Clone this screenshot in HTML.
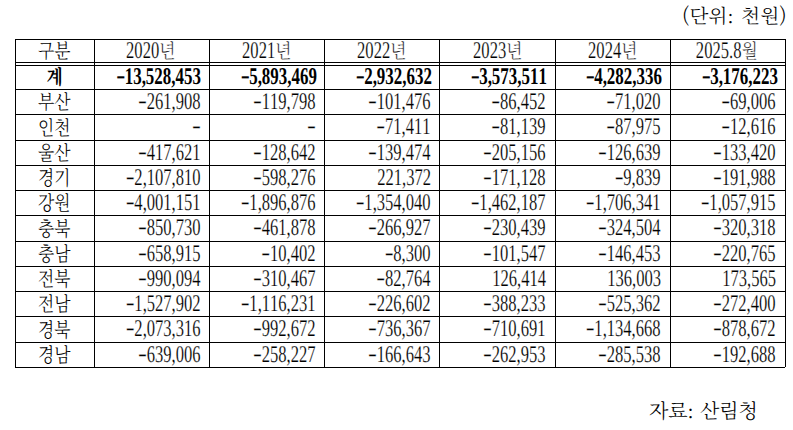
<!DOCTYPE html>
<html lang="ko"><head><meta charset="utf-8"><title>table</title><style>
*{margin:0;padding:0}
html,body{width:793px;height:430px;background:#fff;overflow:hidden}
body{position:relative;color:#000;text-rendering:geometricPrecision;font-kerning:none;font-feature-settings:"kern" 0;font-family:"Liberation Serif","Noto Serif CJK KR","Noto Serif CJK SC",serif}
.h{position:absolute;height:1px;background:#000}
.v{position:absolute;width:1px;background:#000}
.c{position:absolute;white-space:nowrap}
.n{text-align:right;font-size:24px}
.n:not(.b),.hd{-webkit-text-stroke:0.2px #fff}
.n>span,.hd>span{display:inline-block;transform:scaleX(0.69)}
.n.b>span{transform:scaleX(0.705)}
.n.b i{width:11.87px}
.n>span{transform-origin:100% 50%}
.n i{font-style:normal;display:inline-block;width:12.6px;text-align:left;transform:translateY(-1.2px) scale(1.61,1.0);transform-origin:0 50%}
.b{font-weight:bold}
.k{text-align:center;font-family:"Noto Serif CJK KR","Noto Serif CJK SC",serif;font-size:20px;font-weight:300}
.k.b{font-weight:bold}
.k.b span{position:relative;top:-1px;left:0.5px}
.k span{display:inline-block;transform:scaleX(0.84);transform-origin:50% 50%}
.hd{text-align:center;font-size:24px}
.hd>span{transform-origin:50% 50%}
.hd b{display:inline-block;font-weight:300;font-family:"Noto Serif CJK KR","Noto Serif CJK SC",serif;font-size:20px;transform:scaleX(1.2174);transform-origin:0 50%;margin-right:4.20px}
.lc{font-family:"Liberation Serif",serif}
.note{position:absolute;font-family:"Noto Serif CJK KR","Noto Serif CJK SC",serif;white-space:nowrap;font-weight:300}
</style></head><body>
<div class="h" style="left:15px;top:39px;width:771px"></div>
<div class="h" style="left:15px;top:62px;width:771px"></div>
<div class="h" style="left:15px;top:65px;width:771px"></div>
<div class="h" style="left:15px;top:89px;width:771px"></div>
<div class="h" style="left:15px;top:114px;width:771px"></div>
<div class="h" style="left:15px;top:140px;width:771px"></div>
<div class="h" style="left:15px;top:165px;width:771px"></div>
<div class="h" style="left:15px;top:190px;width:771px"></div>
<div class="h" style="left:15px;top:215px;width:771px"></div>
<div class="h" style="left:15px;top:241px;width:771px"></div>
<div class="h" style="left:15px;top:266px;width:771px"></div>
<div class="h" style="left:15px;top:291px;width:771px"></div>
<div class="h" style="left:15px;top:316px;width:771px"></div>
<div class="h" style="left:15px;top:342px;width:771px"></div>
<div class="h" style="left:15px;top:367px;width:770px"></div>
<div class="v" style="left:15px;top:39px;height:329px"></div>
<div class="v" style="left:94px;top:39px;height:329px"></div>
<div class="v" style="left:209px;top:39px;height:329px"></div>
<div class="v" style="left:324px;top:39px;height:329px"></div>
<div class="v" style="left:439px;top:39px;height:329px"></div>
<div class="v" style="left:555px;top:39px;height:329px"></div>
<div class="v" style="left:670px;top:39px;height:329px"></div>
<div class="v" style="left:785px;top:39px;height:328px"></div>
<div class="c k" style="left:15.0px;width:78px;top:39.0px;height:22px;line-height:22px"><span>구분</span></div>
<div class="c hd" style="left:94px;width:114px;top:39.0px;height:22px;line-height:22px"><span>2020<b>년</b></span></div>
<div class="c hd" style="left:210px;width:114px;top:39.0px;height:22px;line-height:22px"><span>2021<b>년</b></span></div>
<div class="c hd" style="left:325px;width:114px;top:39.0px;height:22px;line-height:22px"><span>2022<b>년</b></span></div>
<div class="c hd" style="left:440px;width:115px;top:39.0px;height:22px;line-height:22px"><span>2023<b>년</b></span></div>
<div class="c hd" style="left:556px;width:114px;top:39.0px;height:22px;line-height:22px"><span>2024<b>년</b></span></div>
<div class="c hd" style="left:670px;width:114px;top:39.0px;height:22px;line-height:22px"><span>2025.8<b>월</b></span></div>
<div class="c k b" style="left:15.0px;width:78px;top:65.0px;height:23px;line-height:23px"><span>계</span></div>
<div class="c n b" style="left:15px;width:186.04px;top:66.0px;height:23px;line-height:23px"><span><i>-</i>13,528,453</span></div>
<div class="c n b" style="left:130px;width:186.59px;top:66.0px;height:23px;line-height:23px"><span><i>-</i>5,893,469</span></div>
<div class="c n b" style="left:245px;width:186.94px;top:66.0px;height:23px;line-height:23px"><span><i>-</i>2,932,632</span></div>
<div class="c n b" style="left:360px;width:187.09px;top:66.0px;height:23px;line-height:23px"><span><i>-</i>3,573,511</span></div>
<div class="c n b" style="left:476px;width:185.44px;top:66.0px;height:23px;line-height:23px"><span><i>-</i>4,282,336</span></div>
<div class="c n b" style="left:591px;width:186.79px;top:66.0px;height:23px;line-height:23px"><span><i>-</i>3,176,223</span></div>
<div class="c k" style="left:15.0px;width:78px;top:89.0px;height:24px;line-height:24px"><span>부산</span></div>
<div class="c n" style="left:15px;width:185.74px;top:90.0px;height:24px;line-height:24px"><span><i>-</i>261,908</span></div>
<div class="c n" style="left:130px;width:185.79px;top:90.0px;height:24px;line-height:24px"><span><i>-</i>119,798</span></div>
<div class="c n" style="left:245px;width:185.84px;top:90.0px;height:24px;line-height:24px"><span><i>-</i>101,476</span></div>
<div class="c n" style="left:360px;width:185.89px;top:90.0px;height:24px;line-height:24px"><span><i>-</i>86,452</span></div>
<div class="c n" style="left:476px;width:184.94px;top:90.0px;height:24px;line-height:24px"><span><i>-</i>71,020</span></div>
<div class="c n" style="left:591px;width:184.99px;top:90.0px;height:24px;line-height:24px"><span><i>-</i>69,006</span></div>
<div class="c k" style="left:15.0px;width:78px;top:114.0px;height:25px;line-height:25px"><span>인천</span></div>
<div class="c n" style="left:15px;width:185.74px;top:115.0px;height:25px;line-height:25px"><span><i>-</i></span></div>
<div class="c n" style="left:130px;width:185.79px;top:115.0px;height:25px;line-height:25px"><span><i>-</i></span></div>
<div class="c n" style="left:245px;width:185.84px;top:115.0px;height:25px;line-height:25px"><span><i>-</i>71,411</span></div>
<div class="c n" style="left:360px;width:185.89px;top:115.0px;height:25px;line-height:25px"><span><i>-</i>81,139</span></div>
<div class="c n" style="left:476px;width:184.94px;top:115.0px;height:25px;line-height:25px"><span><i>-</i>87,975</span></div>
<div class="c n" style="left:591px;width:184.99px;top:115.0px;height:25px;line-height:25px"><span><i>-</i>12,616</span></div>
<div class="c k" style="left:15.0px;width:78px;top:140.0px;height:24px;line-height:24px"><span>울산</span></div>
<div class="c n" style="left:15px;width:185.74px;top:141.0px;height:24px;line-height:24px"><span><i>-</i>417,621</span></div>
<div class="c n" style="left:130px;width:185.79px;top:141.0px;height:24px;line-height:24px"><span><i>-</i>128,642</span></div>
<div class="c n" style="left:245px;width:185.84px;top:141.0px;height:24px;line-height:24px"><span><i>-</i>139,474</span></div>
<div class="c n" style="left:360px;width:185.89px;top:141.0px;height:24px;line-height:24px"><span><i>-</i>205,156</span></div>
<div class="c n" style="left:476px;width:184.94px;top:141.0px;height:24px;line-height:24px"><span><i>-</i>126,639</span></div>
<div class="c n" style="left:591px;width:184.99px;top:141.0px;height:24px;line-height:24px"><span><i>-</i>133,420</span></div>
<div class="c k" style="left:15.0px;width:78px;top:165.0px;height:24px;line-height:24px"><span>경기</span></div>
<div class="c n" style="left:15px;width:185.74px;top:166.0px;height:24px;line-height:24px"><span><i>-</i>2,107,810</span></div>
<div class="c n" style="left:130px;width:185.79px;top:166.0px;height:24px;line-height:24px"><span><i>-</i>598,276</span></div>
<div class="c n" style="left:245px;width:185.84px;top:166.0px;height:24px;line-height:24px"><span>221,372</span></div>
<div class="c n" style="left:360px;width:185.89px;top:166.0px;height:24px;line-height:24px"><span><i>-</i>171,128</span></div>
<div class="c n" style="left:476px;width:184.94px;top:166.0px;height:24px;line-height:24px"><span><i>-</i>9,839</span></div>
<div class="c n" style="left:591px;width:184.99px;top:166.0px;height:24px;line-height:24px"><span><i>-</i>191,988</span></div>
<div class="c k" style="left:15.0px;width:78px;top:190.0px;height:24px;line-height:24px"><span>강원</span></div>
<div class="c n" style="left:15px;width:185.74px;top:191.0px;height:24px;line-height:24px"><span><i>-</i>4,001,151</span></div>
<div class="c n" style="left:130px;width:185.79px;top:191.0px;height:24px;line-height:24px"><span><i>-</i>1,896,876</span></div>
<div class="c n" style="left:245px;width:185.84px;top:191.0px;height:24px;line-height:24px"><span><i>-</i>1,354,040</span></div>
<div class="c n" style="left:360px;width:185.89px;top:191.0px;height:24px;line-height:24px"><span><i>-</i>1,462,187</span></div>
<div class="c n" style="left:476px;width:184.94px;top:191.0px;height:24px;line-height:24px"><span><i>-</i>1,706,341</span></div>
<div class="c n" style="left:591px;width:184.99px;top:191.0px;height:24px;line-height:24px"><span><i>-</i>1,057,915</span></div>
<div class="c k" style="left:15.0px;width:78px;top:215.0px;height:25px;line-height:25px"><span>충북</span></div>
<div class="c n" style="left:15px;width:185.74px;top:216.0px;height:25px;line-height:25px"><span><i>-</i>850,730</span></div>
<div class="c n" style="left:130px;width:185.79px;top:216.0px;height:25px;line-height:25px"><span><i>-</i>461,878</span></div>
<div class="c n" style="left:245px;width:185.84px;top:216.0px;height:25px;line-height:25px"><span><i>-</i>266,927</span></div>
<div class="c n" style="left:360px;width:185.89px;top:216.0px;height:25px;line-height:25px"><span><i>-</i>230,439</span></div>
<div class="c n" style="left:476px;width:184.94px;top:216.0px;height:25px;line-height:25px"><span><i>-</i>324,504</span></div>
<div class="c n" style="left:591px;width:184.99px;top:216.0px;height:25px;line-height:25px"><span><i>-</i>320,318</span></div>
<div class="c k" style="left:15.0px;width:78px;top:241.0px;height:24px;line-height:24px"><span>충남</span></div>
<div class="c n" style="left:15px;width:185.74px;top:242.0px;height:24px;line-height:24px"><span><i>-</i>658,915</span></div>
<div class="c n" style="left:130px;width:185.79px;top:242.0px;height:24px;line-height:24px"><span><i>-</i>10,402</span></div>
<div class="c n" style="left:245px;width:185.84px;top:242.0px;height:24px;line-height:24px"><span><i>-</i>8,300</span></div>
<div class="c n" style="left:360px;width:185.89px;top:242.0px;height:24px;line-height:24px"><span><i>-</i>101,547</span></div>
<div class="c n" style="left:476px;width:184.94px;top:242.0px;height:24px;line-height:24px"><span><i>-</i>146,453</span></div>
<div class="c n" style="left:591px;width:184.99px;top:242.0px;height:24px;line-height:24px"><span><i>-</i>220,765</span></div>
<div class="c k" style="left:15.0px;width:78px;top:266.0px;height:24px;line-height:24px"><span>전북</span></div>
<div class="c n" style="left:15px;width:185.74px;top:267.0px;height:24px;line-height:24px"><span><i>-</i>990,094</span></div>
<div class="c n" style="left:130px;width:185.79px;top:267.0px;height:24px;line-height:24px"><span><i>-</i>310,467</span></div>
<div class="c n" style="left:245px;width:185.84px;top:267.0px;height:24px;line-height:24px"><span><i>-</i>82,764</span></div>
<div class="c n" style="left:360px;width:185.89px;top:267.0px;height:24px;line-height:24px"><span>126,414</span></div>
<div class="c n" style="left:476px;width:184.94px;top:267.0px;height:24px;line-height:24px"><span>136,003</span></div>
<div class="c n" style="left:591px;width:184.99px;top:267.0px;height:24px;line-height:24px"><span>173,565</span></div>
<div class="c k" style="left:15.0px;width:78px;top:291.0px;height:24px;line-height:24px"><span>전남</span></div>
<div class="c n" style="left:15px;width:185.74px;top:292.0px;height:24px;line-height:24px"><span><i>-</i>1,527,902</span></div>
<div class="c n" style="left:130px;width:185.79px;top:292.0px;height:24px;line-height:24px"><span><i>-</i>1,116,231</span></div>
<div class="c n" style="left:245px;width:185.84px;top:292.0px;height:24px;line-height:24px"><span><i>-</i>226,602</span></div>
<div class="c n" style="left:360px;width:185.89px;top:292.0px;height:24px;line-height:24px"><span><i>-</i>388,233</span></div>
<div class="c n" style="left:476px;width:184.94px;top:292.0px;height:24px;line-height:24px"><span><i>-</i>525,362</span></div>
<div class="c n" style="left:591px;width:184.99px;top:292.0px;height:24px;line-height:24px"><span><i>-</i>272,400</span></div>
<div class="c k" style="left:15.0px;width:78px;top:316.0px;height:25px;line-height:25px"><span>경북</span></div>
<div class="c n" style="left:15px;width:185.74px;top:317.0px;height:25px;line-height:25px"><span><i>-</i>2,073,316</span></div>
<div class="c n" style="left:130px;width:185.79px;top:317.0px;height:25px;line-height:25px"><span><i>-</i>992,672</span></div>
<div class="c n" style="left:245px;width:185.84px;top:317.0px;height:25px;line-height:25px"><span><i>-</i>736,367</span></div>
<div class="c n" style="left:360px;width:185.89px;top:317.0px;height:25px;line-height:25px"><span><i>-</i>710,691</span></div>
<div class="c n" style="left:476px;width:184.94px;top:317.0px;height:25px;line-height:25px"><span><i>-</i>1,134,668</span></div>
<div class="c n" style="left:591px;width:184.99px;top:317.0px;height:25px;line-height:25px"><span><i>-</i>878,672</span></div>
<div class="c k" style="left:15.0px;width:78px;top:342.0px;height:24px;line-height:24px"><span>경남</span></div>
<div class="c n" style="left:15px;width:185.74px;top:343.0px;height:24px;line-height:24px"><span><i>-</i>639,006</span></div>
<div class="c n" style="left:130px;width:185.79px;top:343.0px;height:24px;line-height:24px"><span><i>-</i>258,227</span></div>
<div class="c n" style="left:245px;width:185.84px;top:343.0px;height:24px;line-height:24px"><span><i>-</i>166,643</span></div>
<div class="c n" style="left:360px;width:185.89px;top:343.0px;height:24px;line-height:24px"><span><i>-</i>262,953</span></div>
<div class="c n" style="left:476px;width:184.94px;top:343.0px;height:24px;line-height:24px"><span><i>-</i>285,538</span></div>
<div class="c n" style="left:591px;width:184.99px;top:343.0px;height:24px;line-height:24px"><span><i>-</i>192,688</span></div>
<div class="note" style="left:682px;top:3px;font-size:19.5px;line-height:24px;word-spacing:1.5px;letter-spacing:0.3px">(단위<span class="lc">:</span> 천원)</div>
<div class="note" style="left:649px;top:398px;font-size:20px;line-height:24px;word-spacing:0.5px">자료<span class="lc">:</span> 산림청</div>
</body></html>
